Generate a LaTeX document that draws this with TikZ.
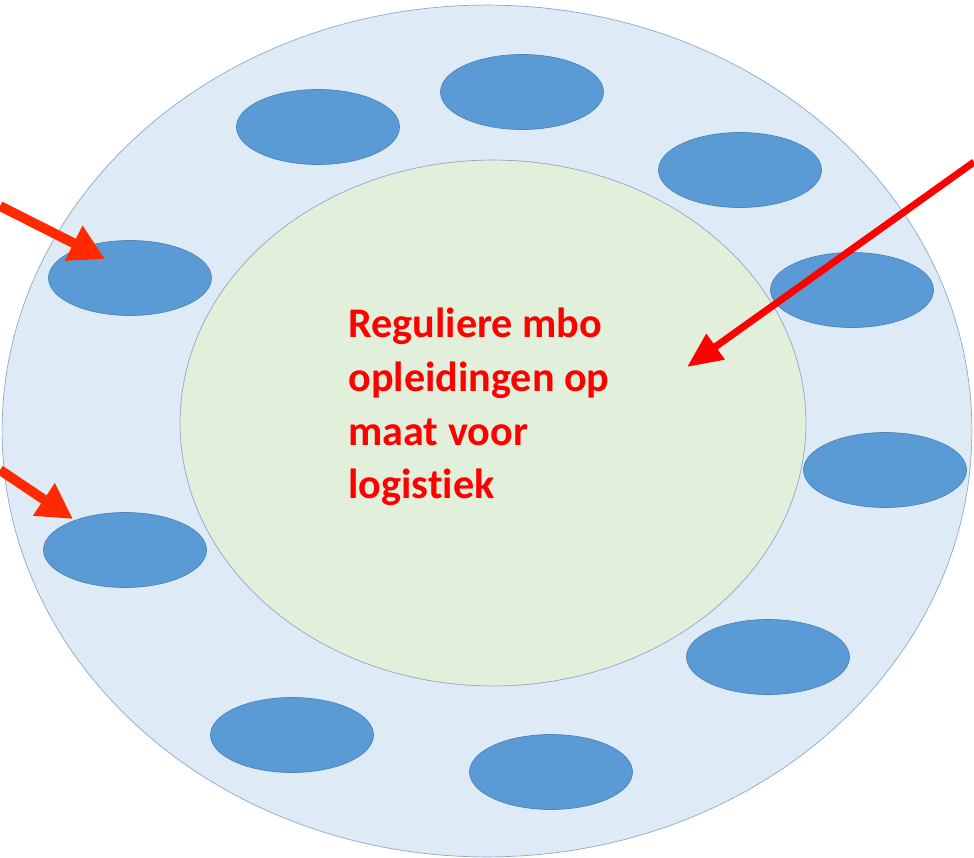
\documentclass[tikz,border=0pt]{standalone}
\usepackage{fontspec}
\setmainfont[Ligatures = NoCommon]{Carlito}
\usetikzlibrary{shapes.geometric, arrows.meta}

\definecolor{ringfill}{HTML}{DEEAF6}
\definecolor{ringedge}{HTML}{8EA9C8}
\definecolor{corefill}{HTML}{E2EFDA}
\definecolor{discblue}{HTML}{5B9BD5}
\definecolor{discedge}{HTML}{4A84BC}
\definecolor{pointred}{HTML}{FF2A00}

\tikzset{
  disc/.style = {ellipse, draw = discedge, fill = discblue, inner sep = 0,
                 minimum width = 3.26cm, minimum height = 1.5cm},
  pointer/.style = {-{Triangle[length = 20pt, width = 21pt]}, line width = 5.6pt, draw = pointred}
}

\begin{document}
\begin{tikzpicture}[x = 0.02cm, y = -0.02cm]
      \useasboundingbox (0, 0) rectangle (974, 858);

      \node (ring) [ellipse, draw = ringedge, fill = ringfill, inner sep = 0,
                    minimum width = 19.4cm, minimum height = 17.04cm] at (487, 431) {};
      \node (core) [ellipse, draw = ringedge, fill = corefill, inner sep = 0,
                    minimum width = 12.52cm, minimum height = 10.52cm] at (493, 423) {};

      \node (d1) [disc] at (318, 127) {};
      \node (d2) [disc] at (522, 92) {};
      \node (d3) [disc] at (740, 170) {};
      \node (d4) [disc] at (130, 278) {};
      \node (d5) [disc] at (852, 290) {};
      \node (d6) [disc] at (885, 470) {};
      \node (d7) [disc] at (125, 550) {};
      \node (d8) [disc] at (768, 657) {};
      \node (d9) [disc] at (292, 735) {};
      \node (d10) [disc] at (551, 772) {};

      \node (label) [anchor = north west, inner sep = 0, align = left, text = red,
                     font = \bfseries\fontsize{24}{30.5}\selectfont] at (348, 308)
            {Reguliere mbo\\opleidingen op\\maat voor\\logistiek};

      % pijlen
      \coordinate (s1) at (0, 206);
      \coordinate (t1) at (105, 259);
      \coordinate (s2) at (0, 470);
      \coordinate (t2) at (73, 519);
      \coordinate (s3) at (974, 162);
      \coordinate (t3) at (687, 367);

      \draw [pointer] (s1) -- (t1);
      \draw [pointer] (s2) -- (t2);
      \draw [pointer, draw = red, fill = red, line width = 4pt,
             -{Triangle[length = 20pt, width = 17pt]}] (s3) -- (t3);
\end{tikzpicture}
\end{document}
